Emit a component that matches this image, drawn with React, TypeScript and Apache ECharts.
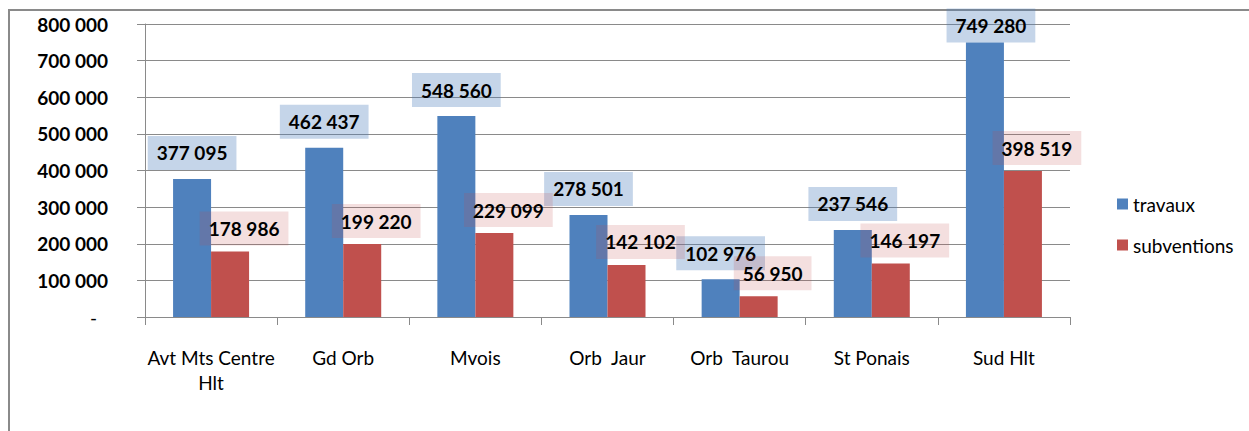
import React, { useEffect, useRef } from "react";
import * as echarts from "echarts";

const categories = [
  "Avt Mts Centre\nHlt",
  "Gd Orb",
  "Mvois",
  "Orb  Jaur",
  "Orb  Taurou",
  "St Ponais",
  "Sud Hlt",
];
const travaux = [377095, 462437, 548560, 278501, 102976, 237546, 749280];
const subventions = [178986, 199220, 229099, 142102, 56950, 146197, 398519];
const seriesNames = ["travaux", "subventions"];
const yTicks = { min: 0, max: 800000, interval: 100000 };

const FONT = "Lato, 'Liberation Sans', sans-serif";

const fmt = (v: number) =>
  v === 0 ? "{z|-}" : String(Math.round(v)).replace(/\B(?=(\d{3})+(?!\d))/g, " ");

export default function App() {
  const ref = useRef<HTMLDivElement>(null);
  useEffect(() => {
    if (!ref.current) return;
    const chart = echarts.init(ref.current, null, { renderer: "svg" });
    const labelBase = {
      show: true,
      position: "top",
      fontFamily: FONT,
      fontSize: 19,
      fontWeight: "bold",
      color: "#000",
      lineHeight: 20,
      padding: [7, 9, 7, 9],
      formatter: (p: any) => fmt(p.value),
    };
    const plotTop = 24;
    const plotBottom = 317;
    const boxH = 34;
    const blueData = travaux.map((v) => {
      const barTop = plotBottom - (v / yTicks.max) * (plotBottom - plotTop);
      if (barTop - 9 - boxH < 12) {
        return { value: v, label: { distance: 0, offset: [6, 0] } };
      }
      return v;
    });
    chart.setOption({
      animation: false,
      backgroundColor: "#fff",
      textStyle: { fontFamily: FONT },
      graphic: [
        {
          type: "rect",
          shape: { x: 9, y: 10, width: 1400, height: 600 },
          style: { fill: "none", stroke: "#8a8a8a", lineWidth: 2 },
          silent: true,
          z: -1,
        },
      ],
      grid: { left: 145, top: plotTop, right: 179, bottom: 431 - plotBottom, containLabel: false },
      legend: {
        orient: "vertical",
        left: 1117,
        top: 193,
        padding: 0,
        itemWidth: 11,
        itemHeight: 11,
        itemGap: 19,
        icon: "rect",
        data: seriesNames,
        textStyle: { fontFamily: FONT, fontSize: 19, color: "#000", lineHeight: 22, padding: [0, 0, 0, 0] },
      },
      xAxis: {
        type: "category",
        data: categories,
        axisLine: { lineStyle: { color: "#8a8a8a", width: 1 } },
        axisTick: { show: true, length: 8, alignWithLabel: false, lineStyle: { color: "#8a8a8a" } },
        axisLabel: {
          interval: 0,
          margin: 28,
          fontFamily: FONT,
          fontSize: 19,
          lineHeight: 25,
          color: "#000",
        },
      },
      yAxis: {
        type: "value",
        min: yTicks.min,
        max: yTicks.max,
        interval: yTicks.interval,
        axisLine: { show: true, lineStyle: { color: "#8a8a8a", width: 1 } },
        axisTick: { show: true, length: 8, lineStyle: { color: "#8a8a8a" } },
        splitLine: { show: true, lineStyle: { color: "#8a8a8a", width: 1 } },
        axisLabel: {
          margin: 37,
          fontFamily: FONT,
          fontSize: 19,
          fontWeight: "bold",
          color: "#000",
          formatter: fmt,
          rich: {
            z: { fontFamily: FONT, fontSize: 19, fontWeight: "normal", color: "#000", padding: [0, 11, 0, 0] },
          },
        },
      },
      series: [
        {
          name: seriesNames[0],
          type: "bar",
          data: blueData,
          barWidth: 38,
          barGap: "0%",
          itemStyle: { color: "#4f81bd" },
          label: { ...labelBase, distance: 9, backgroundColor: "rgba(79,129,189,0.33)" },
        },
        {
          name: seriesNames[1],
          type: "bar",
          data: subventions,
          barWidth: 38,
          barGap: "0%",
          itemStyle: { color: "#c0504d" },
          label: { ...labelBase, distance: 6, offset: [14, 0], backgroundColor: "rgba(192,80,77,0.18)" },
        },
      ],
    });
    return () => chart.dispose();
  }, []);
  return (
    <div
      ref={ref}
      style={{ position: "absolute", left: 0, top: 0, width: 1249, height: 431 }}
    />
  );
}
